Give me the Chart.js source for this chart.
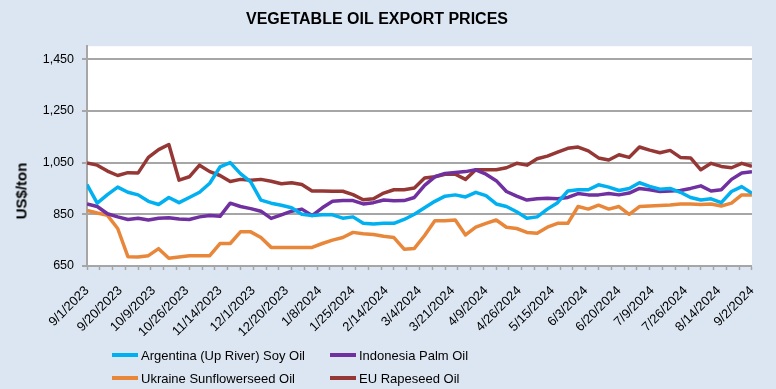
<!DOCTYPE html>
<html lang="en">
<head>
<meta charset="utf-8">
<title>Vegetable Oil Export Prices</title>
<style>
  body { margin: 0; background: #dce6f2; }
  #wrap { position: relative; width: 776px; height: 389px; background: #dce6f2; font-family: "Liberation Sans", Arial, sans-serif; }
  #ytitle { position: absolute; left: 21px; top: 191px; transform: translate(-50%, -50%) rotate(-90deg); font-weight: bold; font-size: 15px; white-space: nowrap; color: #000; }
  .leg { position: absolute; display: flex; align-items: center; height: 16px; font-size: 13px; color: #000; white-space: nowrap; }
  .leg .sw { display: inline-block; width: 26px; height: 4px; margin-right: 3px; }
</style>
</head>
<body>
<div id="wrap">
  <canvas id="myChart" width="776" height="389"></canvas>
  <div id="ytitle">US$/ton</div>
  <div id="legend"></div>
</div>

<script src="https://cdn.jsdelivr.net/npm/chart.js@4.4.1/dist/chart.umd.min.js"></script>
<script>
// business days between the points
const STEP = 4;
const lastDay = 260;
const tickEvery = 13;   // one date label every 13 business days
const markEvery = 5;    // small tick mark every week

const tickLabels = ['9/1/2023', '9/20/2023', '10/9/2023', '10/26/2023', '11/14/2023', '12/1/2023', '12/20/2023',
    '1/8/2024', '1/25/2024', '2/14/2024', '3/4/2024', '3/21/2024', '4/9/2024', '4/26/2024', '5/15/2024',
    '6/3/2024', '6/20/2024', '7/9/2024', '7/26/2024', '8/14/2024', '9/2/2024'];
const yTicks = [650, 850, 1050, 1250, 1450];

const argentinaSoy = [965, 893, 926, 955, 935, 925, 900, 888, 915, 895, 915, 935, 970, 1033, 1050, 1007, 975,
    905, 893, 885, 875, 850, 845, 848, 848, 835, 840, 815, 812, 815, 815, 830, 850, 875, 900, 920, 925, 917,
    935, 922, 890, 880, 860, 835, 840, 870, 895, 940, 945, 945, 964, 955, 942, 950, 972, 958, 947, 950, 935,
    915, 905, 910, 895, 938, 957, 931];
const indonesiaPalm = [890, 880, 852, 840, 830, 835, 828, 835, 837, 832, 830, 840, 845, 842, 893, 880, 872,
    862, 834, 848, 862, 870, 845, 875, 900, 903, 903, 890, 895, 905, 902, 903, 915, 962, 995, 1008, 1012, 1015,
    1022, 1005, 980, 938, 920, 905, 910, 912, 910, 915, 930, 925, 925, 930, 925, 932, 950, 945, 938, 940, 942,
    950, 960, 940, 945, 985, 1010, 1015];
const ukraineSunflower = [865, 855, 846, 795, 686, 685, 690, 717, 680, 685, 690, 690, 690, 737, 737, 782, 782,
    760, 722, 722, 722, 722, 722, 737, 750, 760, 780, 775, 772, 765, 760, 715, 718, 768, 825, 825, 828, 770,
    800, 815, 828, 800, 795, 780, 777, 800, 815, 815, 880, 870, 885, 870, 880, 850, 880, 882, 884, 886, 890,
    890, 888, 890, 882, 893, 925, 925];
const euRapeseed = [1048, 1040, 1017, 1000, 1011, 1010, 1070, 1100, 1120, 982, 995, 1040, 1015, 1000, 977, 985,
    982, 985, 978, 968, 972, 965, 940, 940, 939, 939, 926, 906, 910, 932, 945, 945, 952, 990, 995, 1005, 1005,
    985, 1022, 1022, 1022, 1030, 1047, 1040, 1065, 1075, 1090, 1105, 1110, 1095, 1068, 1060, 1080, 1070, 1110,
    1098, 1088, 1097, 1070, 1068, 1022, 1047, 1035, 1030, 1047, 1035];

function points(values) {
    return values.map((v, i) => ({ x: i * STEP, y: v }));
}

const gray = '#a6a6a6';
const fontFamily = '"Liberation Sans", Arial, sans-serif';

// white plot area on the blue page
const plotBg = {
    id: 'plotBg',
    beforeDraw(chart) {
        const a = chart.chartArea, c = chart.ctx;
        c.save();
        c.fillStyle = '#ffffff';
        c.fillRect(a.left, a.top, a.right - a.left, a.bottom - a.top);
        c.restore();
    }
};

var ctx = document.getElementById('myChart').getContext('2d');
var chart = new Chart(ctx, {
    type: 'line',
    data: {
        datasets: [
            { label: 'Argentina (Up River) Soy Oil', data: points(argentinaSoy), borderColor: '#00b0f0', backgroundColor: '#00b0f0' },
            { label: 'Indonesia Palm Oil', data: points(indonesiaPalm), borderColor: '#7030a0', backgroundColor: '#7030a0' },
            { label: 'Ukraine Sunflowerseed Oil', data: points(ukraineSunflower), borderColor: '#e8873a', backgroundColor: '#e8873a' },
            { label: 'EU Rapeseed Oil', data: points(euRapeseed), borderColor: '#953735', backgroundColor: '#953735' }
        ]
    },
    options: {
        responsive: false,
        animation: false,
        devicePixelRatio: 1,
        elements: {
            line: { borderWidth: 3.5, tension: 0, borderJoinStyle: 'round' },
            point: { radius: 0, hoverRadius: 0 }
        },
        layout: { padding: { left: 0, right: 22, top: 0, bottom: 53 } },
        plugins: {
            legend: { display: false },
            tooltip: { enabled: false },
            title: {
                display: true,
                text: 'VEGETABLE OIL EXPORT PRICES',
                color: '#000',
                font: { family: fontFamily, size: 16, weight: 'bold' },
                padding: { top: 10, bottom: 17 }
            }
        },
        scales: {
            x: {
                type: 'linear',
                min: 0,
                max: lastDay,
                afterBuildTicks: (scale) => {
                    const vals = [];
                    for (let d = 0; d <= lastDay; d++) {
                        if (d % markEvery === 0 || d % tickEvery === 0) vals.push({ value: d });
                    }
                    scale.ticks = vals;
                },
                afterFit: (scale) => { scale.height = 70; },
                ticks: {
                    autoSkip: false,
                    minRotation: 45,
                    maxRotation: 45,
                    padding: 13,
                    color: '#000',
                    font: { family: fontFamily, size: 13 },
                    callback: (v) => v % tickEvery === 0 ? tickLabels[v / tickEvery] : ''
                },
                grid: {
                    drawOnChartArea: false,
                    drawTicks: true,
                    tickLength: 4,
                    tickWidth: 1.5,
                    tickColor: (c) => (c.tick && c.tick.value % markEvery === 0) ? gray : 'rgba(0,0,0,0)'
                },
                border: { display: true, color: gray, width: 2 }
            },
            y: {
                min: 650,
                max: 1500,
                afterBuildTicks: (scale) => { scale.ticks = yTicks.map(v => ({ value: v })); },
                afterFit: (scale) => { scale.width = 87; },
                ticks: {
                    padding: 8,
                    color: '#000',
                    font: { family: fontFamily, size: 12.5 },
                    callback: (v) => v.toLocaleString('en-US')
                },
                grid: { color: gray, lineWidth: 2, tickLength: 5, tickColor: gray },
                border: { display: true, color: gray, width: 2 }
            }
        }
    },
    plugins: [plotBg]
});

// two-column legend under the axis, built from the datasets
const legendSpots = [[112, 347], [330, 347], [112, 370], [330, 370]];
const legendBox = document.getElementById('legend');
chart.data.datasets.forEach((ds, i) => {
    const item = document.createElement('div');
    item.className = 'leg';
    item.style.left = legendSpots[i][0] + 'px';
    item.style.top = legendSpots[i][1] + 'px';
    item.innerHTML = '<span class="sw" style="background:' + ds.borderColor + '"></span>' + ds.label;
    legendBox.appendChild(item);
});
</script>
</body>
</html>
